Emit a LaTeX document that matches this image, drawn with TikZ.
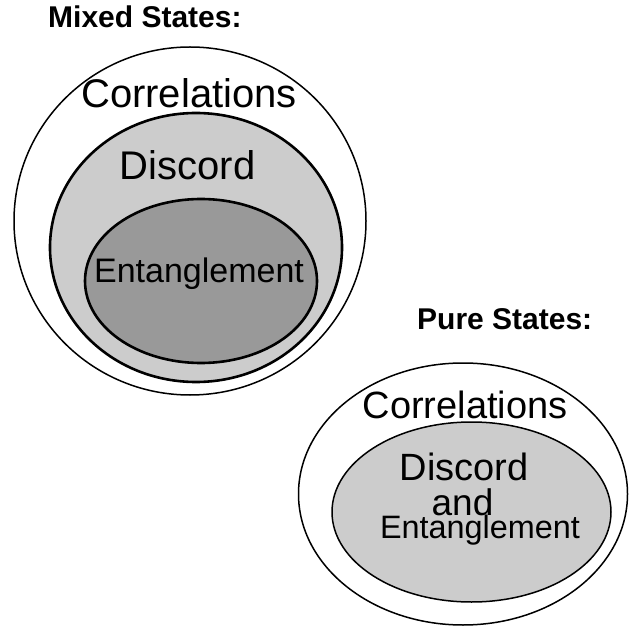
\documentclass[tikz,border=0pt]{standalone}
\usepackage{fontspec}
\setmainfont{Liberation Sans}
\usepackage{xcolor}
\usepackage{tikz}
\definecolor{discordgray}{HTML}{CCCCCC}
\definecolor{entgray}{HTML}{999999}

\begin{document}
\begin{tikzpicture}[x=1pt, y=-1pt,
  outerline/.style={line width=1.5pt},
  innerline/.style={line width=2.6pt},
  label/.style={inner sep=0pt, anchor=base}]
\useasboundingbox (0,0) rectangle (629,628);
% mixed states
\node[label, anchor=base west] (mixtitle) at (48,28) {\fontsize{30}{36}\selectfont\bfseries Mixed States:};
\draw[outerline, fill=white] (190,221) ellipse [x radius=176, y radius=174];
\draw[innerline, fill=discordgray] (196,247.5) ellipse [x radius=146, y radius=134.5];
\draw[innerline, fill=entgray] (201,281) ellipse [x radius=116, y radius=82];
\node[label] (mixcorr) at (189,108) {\fontsize{40}{44}\selectfont Correlations};
\node[label] (mixdisc) at (187.5,180) {\fontsize{40}{44}\selectfont Discord};
\node[label] (mixent) at (199,283) {\fontsize{34}{40}\selectfont Entanglement};
% pure states
\node[label, anchor=base west] (puretitle) at (417,330) {\fontsize{30}{36}\selectfont\bfseries Pure States:};
\draw[outerline, fill=white] (463,494) ellipse [x radius=164.5, y radius=131];
\draw[outerline, fill=discordgray] (471.5,512) ellipse [x radius=139.5, y radius=90];
\node[label] (purecorr) at (465,418) {\fontsize{38}{44}\selectfont Correlations};
\node[label] (puredisc) at (464,480) {\fontsize{38}{44}\selectfont Discord};
\node[label] (pureand) at (462.5,515) {\fontsize{37}{44}\selectfont and};
\node[label] (pureent) at (480,538) {\fontsize{32.4}{38}\selectfont Entanglement};
\end{tikzpicture}
\end{document}
